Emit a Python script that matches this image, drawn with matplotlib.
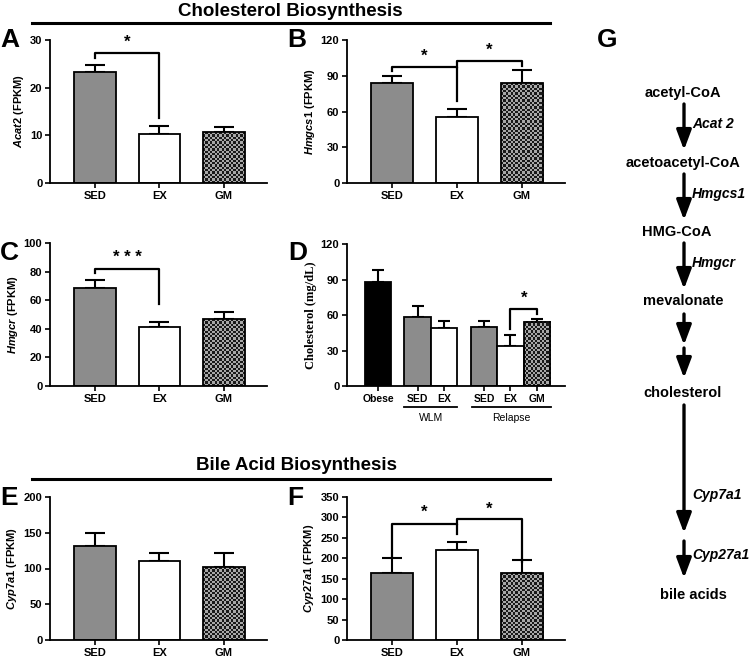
import matplotlib
matplotlib.use("Agg")
import matplotlib.pyplot as plt
import numpy as np
from matplotlib.colors import ListedColormap
import matplotlib.transforms as mtransforms

plt.rcParams['font.family'] = ['Liberation Sans', 'DejaVu Sans']
plt.rcParams['font.weight'] = 'bold'
plt.rcParams['mathtext.fontset'] = 'custom'
plt.rcParams['mathtext.it'] = 'Liberation Sans:italic:bold'
plt.rcParams['mathtext.rm'] = 'Liberation Sans:bold'

# ---- data ----
groups = ['SED', 'EX', 'GM']

acat2 = [23.3, 10.3, 10.6]
acat2_err = [1.5, 1.7, 1.1]

hmgcs1 = [83.5, 55.5, 83.5]
hmgcs1_err = [6.0, 7.0, 11.0]

hmgcr = [68.8, 41.0, 46.6]
hmgcr_err = [5.3, 4.0, 4.9]

chol_labels = ['Obese', 'SED', 'EX', 'SED', 'EX', 'GM']
chol_groups = ['obese', 'SED', 'EX', 'SED', 'EX', 'GM']
chol = [87.6, 58.6, 48.8, 50.1, 33.8, 54.3]
chol_err = [10.4, 9.3, 6.4, 5.1, 9.0, 2.1]

cyp7a1 = [131.5, 110.5, 101.7]
cyp7a1_err = [17.5, 11.5, 19.5]

cyp27a1 = [163, 221.5, 163]
cyp27a1_err = [37, 19, 32]

colors = {'SED': '#8c8c8c', 'EX': 'white', 'GM': 'checker', 'obese': 'black'}

W, H = 750, 658
fig = plt.figure(figsize=(7.5, 6.58), dpi=100)


def add_ax(left, right, top, bottom):
    return fig.add_axes([left / W, 1 - bottom / H, (right - left) / W, (bottom - top) / H])


def checker(ax, x0, w, h, cell=2.3):
    p0 = ax.transData.transform((x0, 0))
    p1 = ax.transData.transform((x0 + w, h))
    nx = max(1, int(round((p1[0] - p0[0]) / cell)))
    ny = max(1, int(round((p1[1] - p0[1]) / cell)))
    grid = np.add.outer(np.arange(ny), np.arange(nx)) % 2
    ax.imshow(grid, extent=(x0, x0 + w, 0, h), origin='lower', aspect='auto',
              interpolation='nearest', cmap=ListedColormap(['#1a1a1a', '#a8a8a8']),
              zorder=1.5)


def bars(ax, pos, vals, errs, kinds, width, xlim, ylim, yticks, cap=7.5):
    ax.set_xlim(*xlim)
    ax.set_ylim(*ylim)
    ax.errorbar(pos, vals, yerr=[np.zeros(len(vals)), errs], fmt='none', ecolor='black',
                elinewidth=1.5, capsize=cap, capthick=1.5, zorder=1)
    for x, v, k in zip(pos, vals, kinds):
        c = colors[k]
        if c == 'checker':
            ax.bar(x, v, width, facecolor='none', edgecolor='black', linewidth=1.3, zorder=2)
            checker(ax, x - width / 2, width, v)
        else:
            ax.bar(x, v, width, facecolor=c, edgecolor='black', linewidth=1.3, zorder=2)
    ax.set_xlim(*xlim)
    ax.set_ylim(*ylim)
    ax.set_yticks(yticks)
    ax.set_xticks(pos)
    for s in ['top', 'right']:
        ax.spines[s].set_visible(False)
    for s in ['left', 'bottom']:
        ax.spines[s].set_linewidth(1.3)
    ax.tick_params(width=1.2, length=3.5, labelsize=8, pad=2)
    for lab in ax.get_yticklabels():
        lab.set_fontweight('bold')


def bracket(ax, x1, x2, yh, y1, y2, star, sy, lw=1.6, fs=12):
    ax.plot([x1, x1, x2, x2], [y1, yh, yh, y2], color='black', lw=lw, clip_on=False, zorder=3)
    ax.text((x1 + x2) / 2, sy, star, ha='center', va='center', fontsize=fs,
            fontweight='bold', clip_on=False)


def ylab(ax, text):
    ax.set_ylabel(text, fontsize=8, fontweight='bold', labelpad=3)


pos3 = np.arange(3)
xl3 = (-0.7, 2.67)
bw = 0.65

# A
axA = add_ax(50, 267, 40, 183)
bars(axA, pos3, acat2, acat2_err, groups, bw, xl3, (0, 30), [0, 10, 20, 30])
axA.set_xticklabels(groups, fontweight='bold')
ylab(axA, r'$\mathit{Acat2}$ (FPKM)')
bracket(axA, 0, 1, 27.3, 26.2, 13.6, '*', 29.6)

# B
axB = add_ax(347, 565, 40, 183)
bars(axB, pos3, hmgcs1, hmgcs1_err, groups, bw, xl3, (0, 120), [0, 30, 60, 90, 120])
axB.set_xticklabels(groups, fontweight='bold')
ylab(axB, r'$\mathit{Hmgcs1}$ (FPKM)')
bracket(axB, 0, 1, 97.6, 94.2, 69.0, '*', 106.5)
bracket(axB, 1, 2, 102.4, 97.6, 98.4, '*', 111)

# C
axC = add_ax(50, 267, 243, 386)
bars(axC, pos3, hmgcr, hmgcr_err, groups, bw, xl3, (0, 100), [0, 20, 40, 60, 80, 100])
axC.set_xticklabels(groups, fontweight='bold')
ylab(axC, r'$\mathit{Hmgcr}$ (FPKM)')
bracket(axC, 0, 1, 81.8, 78.8, 57.3, '* * *', 89.8)

# D
axD = add_ax(347, 565, 244, 386)
posD = [0, 1.5, 2.5, 4, 5, 6]
bars(axD, posD, chol, chol_err, chol_groups, 1.0, (-1.17, 7.06), (0, 120),
     [0, 30, 60, 90, 120], cap=4.5)
axD.set_xticklabels(chol_labels, fontsize=7.5, fontweight='bold')
axD.set_ylabel('Cholesterol (mg/dL)', fontsize=9, family='Liberation Serif',
               fontweight='bold', labelpad=3)
bracket(axD, 5, 6, 65, 48.2, 60.8, '*', 74)
trD = mtransforms.blended_transform_factory(axD.transData, axD.transAxes)
for x1, x2, name in [(1.0, 3.0, 'WLM'), (3.55, 6.55, 'Relapse')]:
    axD.plot([x1, x2], [-0.15, -0.15], color='black', lw=1.3, transform=trD, clip_on=False)
    axD.text((x1 + x2) / 2, -0.225, name, transform=trD, ha='center', va='center',
             fontsize=7.5, fontweight='normal')

# E
axE = add_ax(50, 267, 497, 640)
bars(axE, pos3, cyp7a1, cyp7a1_err, groups, bw, xl3, (0, 200), [0, 50, 100, 150, 200])
axE.set_xticklabels(groups, fontweight='bold')
ylab(axE, r'$\mathit{Cyp7a1}$ (FPKM)')

# F
axF = add_ax(347, 565, 497, 640)
bars(axF, pos3, cyp27a1, cyp27a1_err, groups, bw, xl3, (0, 350),
     [0, 50, 100, 150, 200, 250, 300, 350])
axF.set_xticklabels(groups, fontweight='bold')
ylab(axF, r'$\mathit{Cyp27a1}$ (FPKM)')
bracket(axF, 0, 1, 285, 203.5, 260.6, '*', 312)
bracket(axF, 1, 2, 297, 285, 191, '*', 320)

# overlay for titles, letters and pathway
ov = fig.add_axes([0, 0, 1, 1], zorder=-1)
ov.set_xlim(0, W)
ov.set_ylim(H, 0)
ov.axis('off')

ov.text(290, 11, 'Cholesterol Biosynthesis', ha='center', va='center', fontsize=13.5)
ov.plot([32, 550], [23, 23], color='black', lw=2.2)
ov.text(296, 465, 'Bile Acid Biosynthesis', ha='center', va='center', fontsize=13.5)
ov.plot([32, 550], [479, 479], color='black', lw=2.2)

for letter, x, y in [('A', 0, 40), ('B', 287, 40), ('C', 0, 253), ('D', 288, 253),
                     ('E', 0, 498), ('F', 287, 498), ('G', 597, 40)]:
    ov.text(x, y, letter, ha='left', va='center', fontsize=19)

# pathway (panel G)
xa = 684
nodes = [('acetyl-CoA', 683, 93), ('acetoacetyl-CoA', 683, 163), ('HMG-CoA', 677, 232),
         ('mevalonate', 683, 301), ('cholesterol', 683, 393), ('bile acids', 693, 595)]
for name, x, y in nodes:
    ov.text(x, y, name, ha='center', va='center', fontsize=10.5)

arrows = [(104, 150), (174, 220), (243, 289), (314, 345), (348, 378), (405, 533), (541, 578)]
for y0, y1 in arrows:
    ov.annotate('', xy=(xa, y1), xytext=(xa, y0),
                arrowprops=dict(arrowstyle='-|>,head_length=1.2,head_width=0.45',
                                lw=2.4, color='black', mutation_scale=10, shrinkA=0, shrinkB=0))

enzymes = [('Acat 2', 124), ('Hmgcs1', 194), ('Hmgcr', 263), ('Cyp7a1', 495), ('Cyp27a1', 555)]
for name, y in enzymes:
    ov.text(692, y, name, ha='left', va='center', fontsize=10, style='italic')

fig.savefig('out.png', dpi=100)
